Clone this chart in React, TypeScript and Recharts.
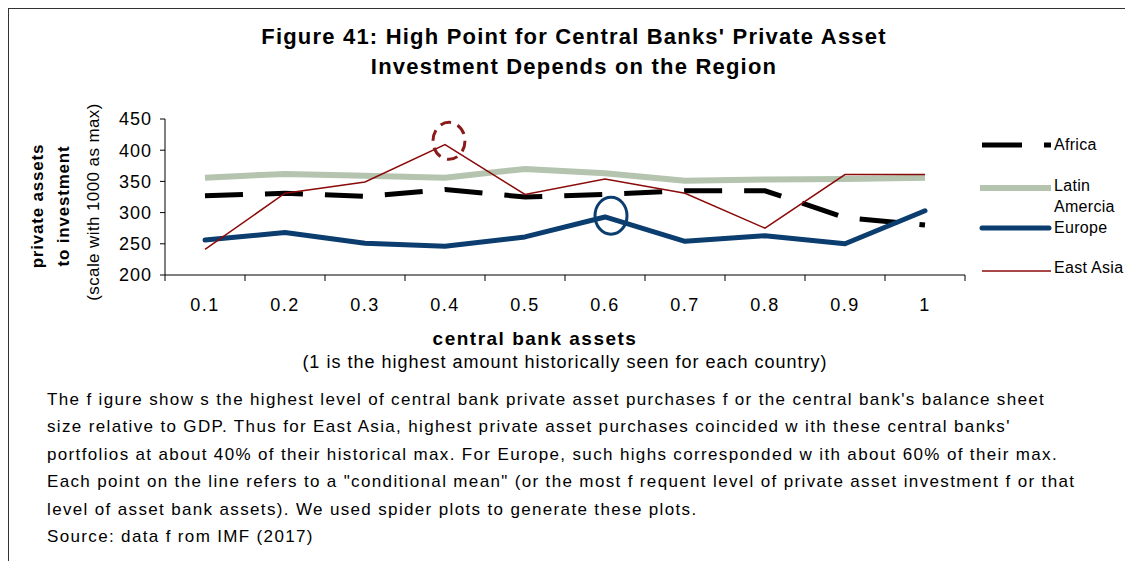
import { LineChart, Line, XAxis, YAxis, ReferenceDot } from 'recharts';

const font = '"Liberation Sans", Arial, sans-serif';

// central bank assets (1 = historical max)
const levels = [0.1, 0.2, 0.3, 0.4, 0.5, 0.6, 0.7, 0.8, 0.9, 1];
const africa = [327, 331, 326, 337, 325, 329, 335, 335, 292, 280];
const latinAmerica = [356, 362, 359, 356, 370, 363, 351, 353, 354, 356];
const europe = [256, 268, 251, 246, 261, 293, 254, 263, 250, 303];
const eastAsia = [241, 331, 349, 409, 329, 354, 331, 275, 361, 361];
const yTicks = [200, 250, 300, 350, 400, 450];

// circled highs
const highlights = [
  { x: 0.405, y: 415, color: '#8b1a1a', dashed: true },
  { x: 0.6075, y: 295, color: '#0b3d6e', dashed: false },
];

const data = levels.map((lv, i) => ({
  level: lv,
  africa: africa[i],
  latin: latinAmerica[i],
  europe: europe[i],
  eastAsia: eastAsia[i],
}));

// label ticks at the points, tick marks between them
const edges = [...levels.map((c) => Math.round((c - 0.05) * 100) / 100), 1.05];
const xTicks = [...edges, ...levels].sort((a, b) => a - b);

const XTick = (props: any) => {
  const { x, y, payload } = props;
  const v = payload.value as number;
  if (Math.round(v * 100) % 10 === 5) {
    return <line x1={x} x2={x} y1={y} y2={y + 6} stroke="#000" />;
  }
  return (
    <text x={x} y={y + 36} textAnchor="middle" fontSize={18} fontFamily={font} letterSpacing={1.5} fill="#000">
      {String(v)}
    </text>
  );
};

const Ring = (color: string, dashed: boolean) => (props: any) => (
  <ellipse
    cx={props.cx}
    cy={props.cy}
    rx={16}
    ry={18.5}
    fill="none"
    stroke={color}
    strokeWidth={3}
    strokeDasharray={dashed ? '11 7' : undefined}
  />
);

const bodyLines = [
  "The f igure show s the highest level of central bank private asset purchases f or the central bank's balance sheet",
  "size relative to GDP. Thus for East Asia, highest private asset purchases coincided w ith these central banks'",
  'portfolios at about 40% of their historical max. For Europe, such highs corresponded w ith about 60% of their max.',
  'Each point on the line refers to a "conditional mean" (or the most f requent level of private asset investment f or that',
  'level of asset bank assets). We used spider plots to generate these plots.',
  'Source: data f rom IMF (2017)',
];

export default function App() {
  return (
    <div
      style={{
        position: 'relative',
        width: 1124,
        height: 552,
        borderTop: '1px solid #333',
        borderLeft: '1px solid #333',
        fontFamily: font,
        color: '#000',
        background: '#fff',
      }}
    >
      <div
        style={{
          position: 'absolute',
          left: 0,
          width: 1130,
          top: 13,
          textAlign: 'center',
          fontWeight: 'bold',
          fontSize: 22,
          lineHeight: '30px',
          letterSpacing: 1.2,
        }}
      >
        Figure 41: High Point for Central Banks' Private Asset
        <br />
        Investment Depends on the Region
      </div>

      {/* y axis titles */}
      {[
        { text: 'private assets', x: 29, y: 197, bold: true },
        { text: 'to investment', x: 55, y: 197, bold: true },
        { text: '(scale with 1000 as max)', x: 85, y: 193, bold: false },
      ].map((t) => (
        <div
          key={t.text}
          style={{
            position: 'absolute',
            left: t.x - 150,
            top: t.y - 12,
            width: 300,
            height: 24,
            lineHeight: '24px',
            textAlign: 'center',
            transform: 'rotate(-90deg)',
            fontWeight: t.bold ? 'bold' : 'normal',
            fontSize: 17,
            letterSpacing: t.bold ? 0.8 : 0.4,
          }}
        >
          {t.text}
        </div>
      ))}

      <div style={{ position: 'absolute', left: 0, top: 0 }}>
        <LineChart width={1000} height={330} data={data} margin={{ top: 110, right: 44, bottom: 24, left: 96 }}>
          <XAxis
            dataKey="level"
            type="number"
            domain={[0.05, 1.05]}
            ticks={xTicks}
            interval={0}
            tick={<XTick />}
            tickLine={false}
            tickSize={0}
            tickMargin={0}
            axisLine={{ stroke: '#000' }}
            height={40}
          />
          <YAxis
            domain={[200, 450]}
            ticks={yTicks}
            interval={0}
            width={60}
            tickSize={5}
            tickMargin={8}
            axisLine={{ stroke: '#000' }}
            tickLine={{ stroke: '#000' }}
            tick={{ fill: '#000', fontSize: 18, fontFamily: font, letterSpacing: 1 }}
          />
          <Line dataKey="latin" stroke="#b4c4ae" strokeWidth={6} dot={false} isAnimationActive={false} />
          <Line
            dataKey="africa"
            stroke="#000"
            strokeWidth={5}
            strokeDasharray="38 22"
            dot={false}
            isAnimationActive={false}
          />
          <Line
            dataKey="europe"
            stroke="#0b3d6e"
            strokeWidth={5}
            strokeLinecap="round"
            strokeLinejoin="round"
            dot={false}
            isAnimationActive={false}
          />
          <Line dataKey="eastAsia" stroke="#8b0a0a" strokeWidth={1.5} dot={false} isAnimationActive={false} />
          {highlights.map((h) => (
            <ReferenceDot key={h.x} x={h.x} y={h.y} r={16} shape={Ring(h.color, h.dashed)} />
          ))}
        </LineChart>
      </div>

      {/* legend */}
      <svg style={{ position: 'absolute', left: 965, top: 120 }} width={100} height={160}>
        <line x1={8} x2={48} y1={16} y2={16} stroke="#000" strokeWidth={5} />
        <line x1={70} x2={77} y1={16} y2={16} stroke="#000" strokeWidth={5} />
        <line x1={6} x2={77} y1={59} y2={59} stroke="#b4c4ae" strokeWidth={6} />
        <line x1={8} x2={75} y1={99} y2={99} stroke="#0b3d6e" strokeWidth={5} strokeLinecap="round" />
        <line x1={8} x2={77} y1={142} y2={142} stroke="#8b0a0a" strokeWidth={1.5} />
      </svg>
      {[
        { text: 'Africa', y: 136 },
        { text: 'Latin', y: 177 },
        { text: 'Amercia', y: 198 },
        { text: 'Europe', y: 219 },
        { text: 'East Asia', y: 259 },
      ].map((l) => (
        <div
          key={l.text}
          style={{
            position: 'absolute',
            left: 1045,
            top: l.y - 10,
            fontSize: 16,
            lineHeight: '20px',
            letterSpacing: 0.3,
            whiteSpace: 'nowrap',
          }}
        >
          {l.text}
        </div>
      ))}

      {/* x axis titles */}
      <div
        style={{
          position: 'absolute',
          left: 326,
          width: 400,
          top: 318,
          textAlign: 'center',
          fontWeight: 'bold',
          fontSize: 19,
          letterSpacing: 1.5,
          lineHeight: '24px',
        }}
      >
        central bank assets
      </div>
      <div
        style={{
          position: 'absolute',
          left: 256,
          width: 600,
          top: 341,
          textAlign: 'center',
          fontSize: 18,
          letterSpacing: 1,
          lineHeight: '24px',
        }}
      >
        (1 is the highest amount historically seen for each country)
      </div>

      <div
        style={{
          position: 'absolute',
          left: 38,
          top: 377,
          fontSize: 17,
          lineHeight: '27.4px',
          letterSpacing: 1.35,
          whiteSpace: 'nowrap',
        }}
      >
        {bodyLines.map((t) => (
          <div key={t}>{t}</div>
        ))}
      </div>
    </div>
  );
}
